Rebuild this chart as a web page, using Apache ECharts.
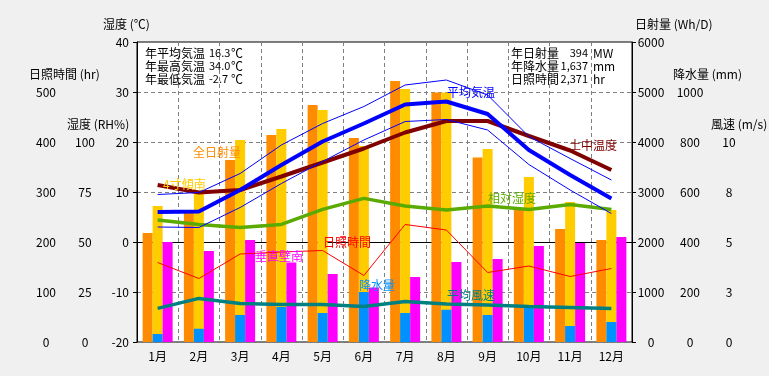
<!DOCTYPE html>
<html><head><meta charset="utf-8">
<script src="https://cdn.jsdelivr.net/npm/echarts@6/dist/echarts.min.js"></script>
<style>html,body{margin:0;padding:0;background:#f0f0f0}#c{width:769px;height:376px}</style>
</head><body><div id="c"></div>
<script>
// ---- data ----
const months = ['1月','2月','3月','4月','5月','6月','7月','8月','9月','10月','11月','12月'];
const solarHoriz = [2180, 2600, 3640, 4140, 4740, 4080, 5220, 4990, 3690, 2670, 2260, 2040]; // 全日射量 Wh/D
const solarTilt  = [2720, 2980, 4040, 4260, 4640, 3920, 5060, 4990, 3860, 3300, 2800, 2640]; // 4寸傾南 Wh/D
const solarVert  = [2000, 1820, 2040, 1590, 1360, 1090, 1300, 1600, 1660, 1920, 1980, 2100]; // 垂直壁南 Wh/D
const precip     = [32, 53, 108, 140, 116, 200, 116, 129, 108, 137, 64, 80];                 // 降水量 mm
const sunshine   = [159, 127, 176, 180, 183, 133, 235, 224, 139, 152, 131, 147];             // 日照時間 hr
const tempAvg    = [6.0, 6.1, 10.4, 15.4, 20.1, 23.7, 27.5, 28.1, 25.6, 18.4, 13.4, 8.7];    // 平均気温
const tempMax    = [9.5, 9.9, 13.7, 19.4, 23.7, 27.1, 31.4, 32.4, 29.4, 21.1, 16.7, 12.4];
const tempMin    = [3.0, 2.9, 6.9, 11.7, 16.1, 20.4, 24.1, 24.5, 22.4, 15.5, 10.4, 5.7];
const soilTemp   = [11.4, 9.9, 10.4, 13.1, 15.9, 18.7, 21.9, 24.2, 24.2, 21.2, 18.3, 14.4];  // 土中温度
const humidity   = [61, 58.8, 57.2, 58.8, 66.3, 71.8, 68, 66, 68, 66.3, 68.8, 66.3];        // 相対湿度 %
const wind       = [1.68, 2.18, 1.93, 1.88, 1.88, 1.77, 2.02, 1.90, 1.85, 1.77, 1.73, 1.67]; // 平均風速 m/s

const summaryLeft  = [['年平均気温','16.3','℃'],['年最高気温','34.0','℃'],['年最低気温','-2.7','℃']];
const summaryRight = [['年日射量','394','MW'],['年降水量','1,637','mm'],['日照時間','2,371','hr']];

// ---- chart ----
const FF = '"Noto Sans CJK JP", "Noto Sans", sans-serif';
const F12 = '12px ' + FF;
const F11 = '11px ' + FF;
const chart = echarts.init(document.getElementById('c'), null, {renderer: 'canvas'});

function txt(text, x, y, color, align, font) {
  return {type: 'text', z: 100, silent: true,
    style: {text: text, x: x, y: y, fill: color, font: font || F12,
      textAlign: align || 'left', textVerticalAlign: 'middle', verticalAlign: 'middle'}};
}
const graphics = [];
summaryLeft.forEach((r, i) => {
  const y = 53 + i * 13;
  graphics.push(txt(r[0], 145, y, '#000'));
  graphics.push(txt(r[1], 209, y, '#000', 'left', F11));
  graphics.push(txt(r[2], 231, y, '#000'));
});
summaryRight.forEach((r, i) => {
  const y = 53 + i * 13;
  graphics.push(txt(r[0], 511, y, '#000'));
  graphics.push(txt(r[1], 588, y, '#000', 'right', F11));
  graphics.push(txt(r[2], 593, y, '#000'));
});
// axis titles
graphics.push(txt('湿度 (℃)', 103, 24, '#000'));
graphics.push(txt('日照時間 (hr)', 29, 74, '#000'));
graphics.push(txt('湿度 (RH%)', 67, 124, '#000'));
graphics.push(txt('日射量 (Wh/D)', 635, 24, '#000'));
graphics.push(txt('降水量 (mm)', 673, 74, '#000'));
graphics.push(txt('風速 (m/s)', 711, 124, '#000'));
// series labels
graphics.push(txt('全日射量', 193, 152, '#ff8c00'));
graphics.push(txt('4寸傾南', 163, 184, '#ffcc00'));
graphics.push(txt('日照時間', 323, 242, '#ff0000'));
graphics.push(txt('垂直壁南', 255, 256, '#ff00ff'));
graphics.push(txt('降水量', 359, 285, '#0090ff'));
graphics.push(txt('平均風速', 447, 295, '#008080'));
graphics.push(txt('相対湿度', 488, 198, '#5aaa00'));
graphics.push(txt('土中温度', 569, 145, '#800000'));
graphics.push(txt('平均気温', 447, 92, '#0000ff'));

const dashed = {show: true, lineStyle: {color: '#808080', type: [4, 3], width: 1}};
const noLine = {show: false};
function sideAxis(min, max, interval, pos, margin, maxLabel, fmt) {
  return {type: 'value', min: min, max: max, interval: interval, position: pos,
    axisLine: noLine, axisTick: noLine, splitLine: noLine,
    axisLabel: {margin: margin, align: 'center', color: '#000', fontFamily: FF, fontSize: 12,
      formatter: v => (v <= maxLabel ? (fmt ? fmt(v) : String(v)) : '')}};
}

function lineS(name, data, yIdx, color, width, z) {
  return {type: 'line', name: name, data: data, xAxisIndex: 0, yAxisIndex: yIdx,
    symbol: 'none', z: z, lineStyle: {color: color, width: width}, animation: false};
}

chart.setOption({
  backgroundColor: '#f0f0f0',
  animation: false,
  grid: {left: 137, right: 137, top: 42, bottom: 34, show: true,
    backgroundColor: '#ffffff', borderColor: '#000000', borderWidth: 1},
  xAxis: [
    {type: 'category', data: months, boundaryGap: true,
      axisLine: {show: true, lineStyle: {color: '#000'}}, axisTick: noLine,
      axisLabel: {margin: 8, color: '#000', fontFamily: FF, fontSize: 12, interval: 0},
      splitLine: {show: true, interval: 0, lineStyle: {color: '#808080', type: [4, 3], width: 1}}},
    {type: 'category', data: months, boundaryGap: true, show: false}
  ],
  yAxis: [
    {type: 'value', min: -20, max: 40, interval: 10, position: 'left',
      axisLine: {show: true, lineStyle: {color: '#000'}},
      axisTick: {show: true, length: 4, lineStyle: {color: '#000'}},
      splitLine: dashed,
      axisLabel: {margin: 8, align: 'right', color: '#000', fontFamily: FF, fontSize: 12}},
    sideAxis(0, 150, 25, 'left', 52, 100),
    sideAxis(0, 600, 100, 'left', 91, 500),
    {type: 'value', min: 0, max: 6000, interval: 1000, position: 'right',
      axisLine: {show: true, lineStyle: {color: '#000'}},
      axisTick: {show: true, length: 4, lineStyle: {color: '#000'}},
      splitLine: noLine,
      axisLabel: {margin: 19, align: 'center', color: '#000', fontFamily: FF, fontSize: 12,
        formatter: v => String(v)}},
    sideAxis(0, 1200, 200, 'right', 58, 1000),
    sideAxis(0, 15, 2.5, 'right', 97, 10, v => String(Math.round(v)))
  ],
  graphic: graphics,
  series: [
    {type: 'bar', name: '全日射量', data: solarHoriz, xAxisIndex: 0, yAxisIndex: 3,
      barWidth: 10, barGap: '0%', itemStyle: {color: '#ff8c00'}, z: 2},
    {type: 'bar', name: '4寸傾南', data: solarTilt, xAxisIndex: 0, yAxisIndex: 3,
      barWidth: 10, barGap: '0%', itemStyle: {color: '#ffcc00'}, z: 2},
    {type: 'bar', name: '垂直壁南', data: solarVert, xAxisIndex: 0, yAxisIndex: 3,
      barWidth: 10, barGap: '0%', itemStyle: {color: '#ff00ff'}, z: 2},
    {type: 'bar', name: '降水量', data: precip, xAxisIndex: 1, yAxisIndex: 4,
      barWidth: 10, itemStyle: {color: '#0090ff'}, z: 3},
    lineS('日照時間', sunshine, 2, '#ff0000', 1, 4),
    lineS('平均風速', wind, 5, '#008080', 3.5, 5),
    lineS('相対湿度', humidity, 1, '#5aaa00', 3.5, 5),
    lineS('土中温度', soilTemp, 0, '#800000', 4, 6),
    lineS('最高気温', tempMax, 0, '#0000ff', 1, 7),
    lineS('最低気温', tempMin, 0, '#0000ff', 1, 7),
    lineS('平均気温', tempAvg, 0, '#0000ff', 4, 8)
  ]
});
</script></body></html>
